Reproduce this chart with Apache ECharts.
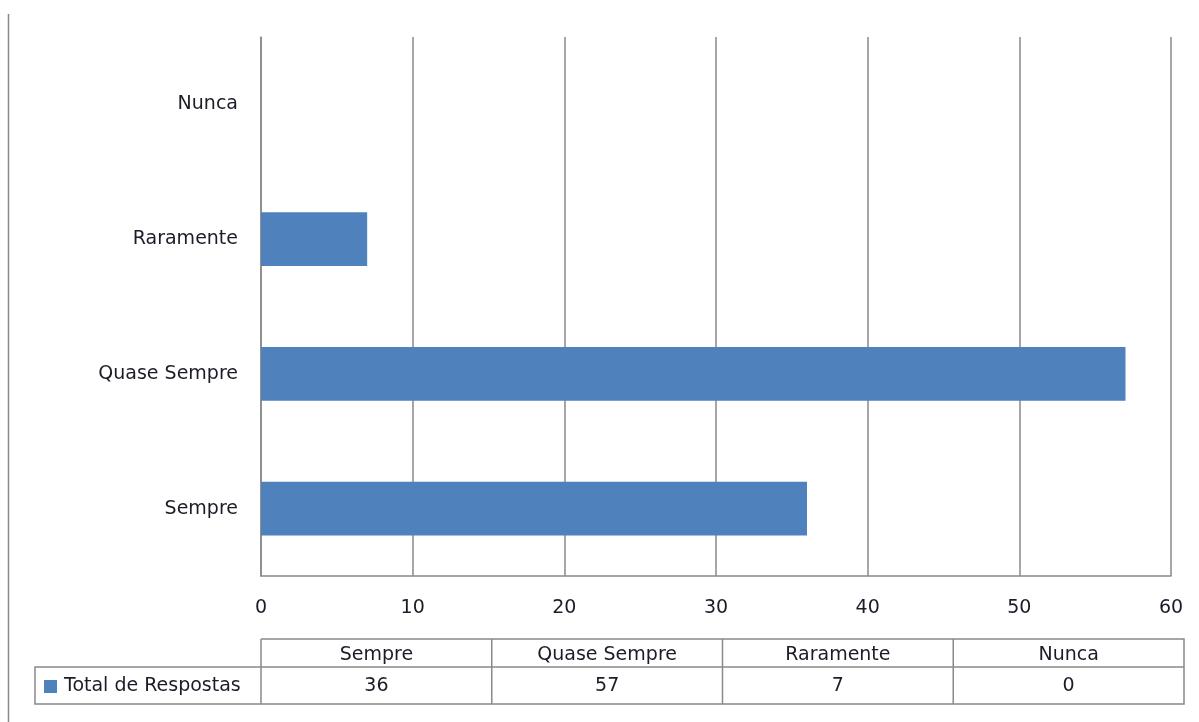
<!DOCTYPE html>
<html><head><meta charset="utf-8">
<script src="https://cdn.jsdelivr.net/npm/echarts@6/dist/echarts.min.js"></script>
<style>html,body{margin:0;padding:0;background:#fff}#c{width:1199px;height:722px}</style>
</head><body><div id="c"></div>
<script>
const categories = ['Sempre', 'Quase Sempre', 'Raramente', 'Nunca'];
const totalRespostas = [36, 57, 7, 0];
const seriesName = 'Total de Respostas';
const xTicks = {min: 0, max: 60, interval: 10};

const FONT = 'DejaVu Sans';
const FS = 19;
const TXT = '#1c1c28';
const LINE = '#898989';
const chart = echarts.init(document.getElementById('c'), null, {renderer: 'canvas'});

// data table geometry
const tableLeft = 261, tableRight = 1184, legendLeft = 35;
const row1Top = 639, row2Top = 667, row2Bottom = 704;
const colW = (tableRight - tableLeft) / categories.length;
const graphics = [];
graphics.push({type: 'line', shape: {x1: 8.5, y1: 14, x2: 8.5, y2: 722}, style: {stroke: LINE, lineWidth: 1.5}});
graphics.push({type: 'polyline', shape: {points: [[tableLeft, row1Top], [tableRight, row1Top], [tableRight, row2Bottom], [legendLeft, row2Bottom], [legendLeft, row2Top], [tableLeft, row2Top]]}, style: {stroke: LINE, lineWidth: 1.5, fill: null}});
graphics.push({type: 'line', shape: {x1: tableLeft, y1: row2Top, x2: tableRight, y2: row2Top}, style: {stroke: LINE, lineWidth: 1.5}});
for (let i = 0; i <= categories.length - 1; i++) {
  const x = tableLeft + i * colW;
  graphics.push({type: 'line', shape: {x1: x, y1: row1Top, x2: x, y2: row2Bottom}, style: {stroke: LINE, lineWidth: 1.5}});
}
categories.forEach((c, i) => {
  const cx = tableLeft + (i + 0.5) * colW;
  graphics.push({type: 'text', x: cx, y: (row1Top + row2Top) / 2 + 2, style: {text: c, font: FS + 'px ' + FONT, fill: TXT, textAlign: 'center', textVerticalAlign: 'middle'}});
  graphics.push({type: 'text', x: cx, y: (row2Top + row2Bottom) / 2 + 1, style: {text: String(totalRespostas[i]), font: FS + 'px ' + FONT, fill: TXT, textAlign: 'center', textVerticalAlign: 'middle'}});
});
graphics.push({type: 'rect', shape: {x: 44, y: 680, width: 13, height: 13}, style: {fill: '#4F81BD'}});
graphics.push({type: 'text', x: 64, y: (row2Top + row2Bottom) / 2 + 1, style: {text: seriesName, font: FS + 'px ' + FONT, fill: TXT, textAlign: 'left', textVerticalAlign: 'middle'}});

chart.setOption({
  animation: false,
  backgroundColor: '#fff',
  grid: {left: 261, right: 28, top: 37, bottom: 146, containLabel: false},
  xAxis: {
    type: 'value', min: xTicks.min, max: xTicks.max, interval: xTicks.interval,
    axisLine: {show: true, lineStyle: {color: LINE, width: 1.5}},
    axisTick: {show: false},
    axisLabel: {color: TXT, fontFamily: FONT, fontSize: FS, margin: 23},
    splitLine: {show: true, lineStyle: {color: LINE, width: 1.5}}
  },
  yAxis: {
    type: 'category', data: categories,
    axisLine: {show: true, lineStyle: {color: LINE, width: 1.5}},
    axisTick: {show: false},
    axisLabel: {color: TXT, fontFamily: FONT, fontSize: FS, margin: 23, padding: [7, 0, 0, 0]}
  },
  series: [{
    name: seriesName, type: 'bar', data: totalRespostas,
    barCategoryGap: '60%',
    itemStyle: {color: '#4F81BD'}
  }],
  graphic: graphics
});
</script></body></html>
